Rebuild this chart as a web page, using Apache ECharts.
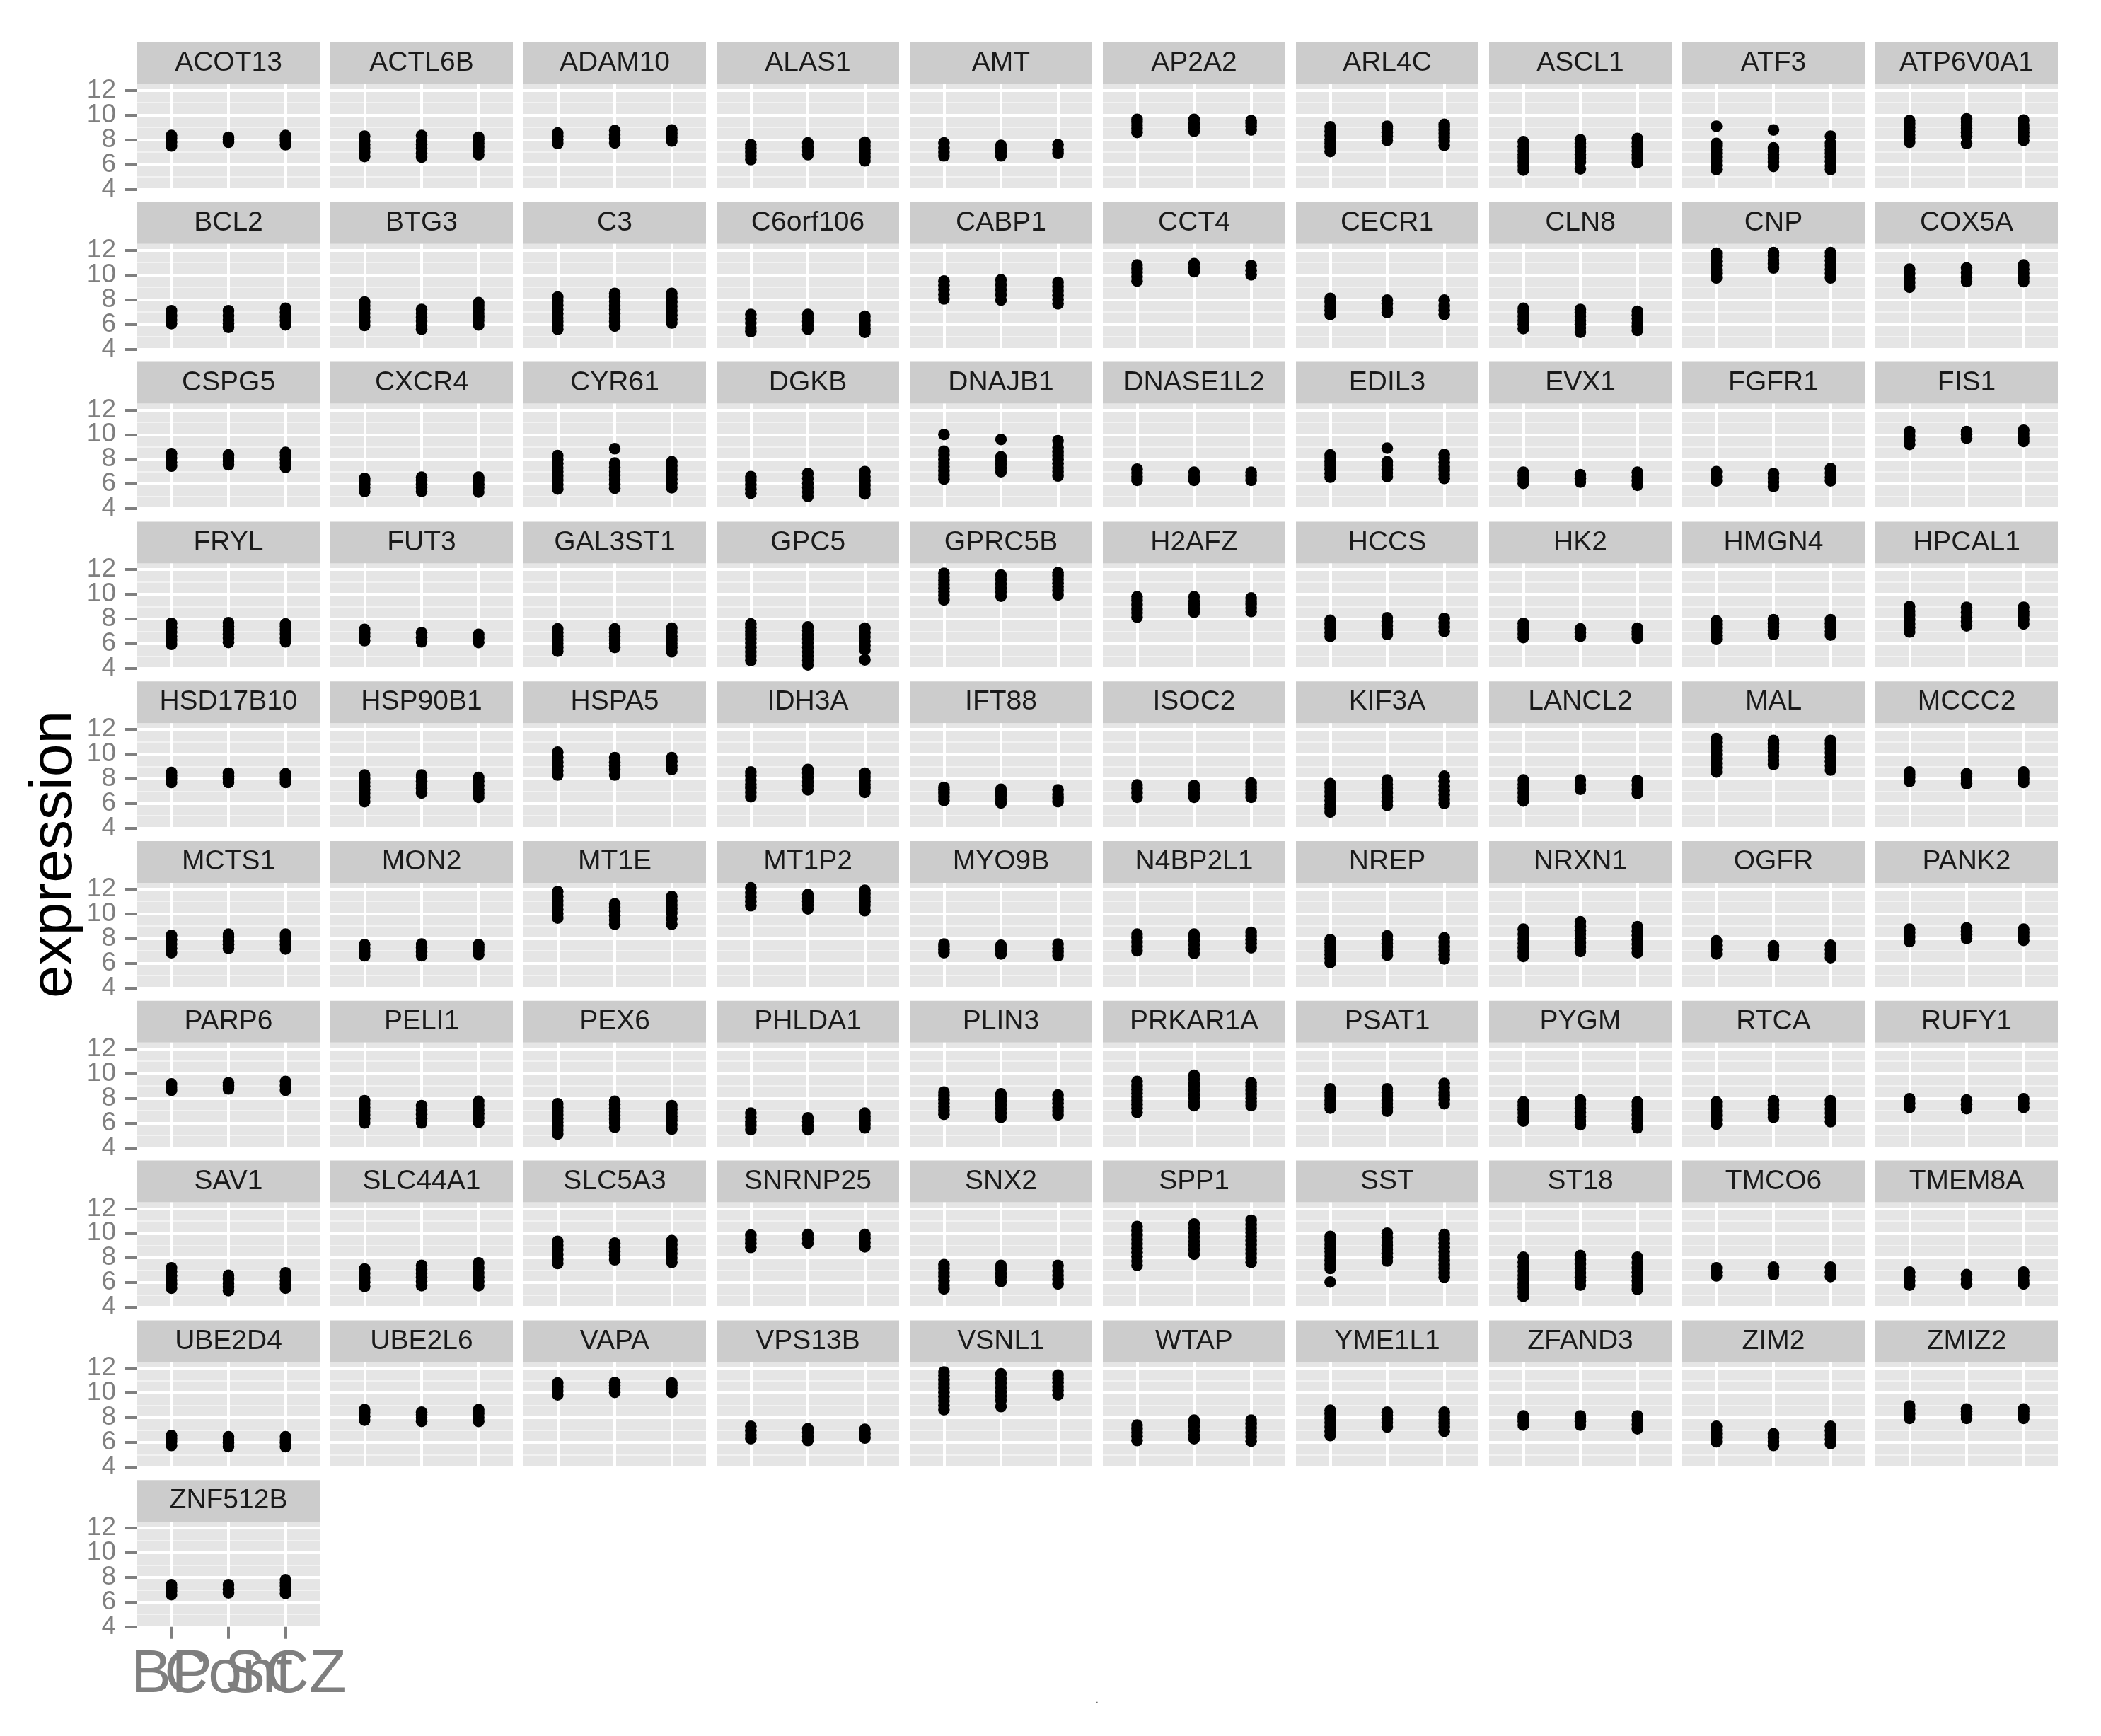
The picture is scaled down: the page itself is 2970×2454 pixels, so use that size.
<!DOCTYPE html>
<html><head><meta charset="utf-8">
<script src="https://cdn.jsdelivr.net/npm/echarts@6/dist/echarts.min.js"></script>
<style>html,body{margin:0;padding:0;background:#fff}#c{width:2970px;height:2454px}</style>
</head><body><div id="c"></div>
<script>
const genes = ['ACOT13','ACTL6B','ADAM10','ALAS1','AMT','AP2A2','ARL4C','ASCL1','ATF3','ATP6V0A1',
'BCL2','BTG3','C3','C6orf106','CABP1','CCT4','CECR1','CLN8','CNP','COX5A',
'CSPG5','CXCR4','CYR61','DGKB','DNAJB1','DNASE1L2','EDIL3','EVX1','FGFR1','FIS1',
'FRYL','FUT3','GAL3ST1','GPC5','GPRC5B','H2AFZ','HCCS','HK2','HMGN4','HPCAL1',
'HSD17B10','HSP90B1','HSPA5','IDH3A','IFT88','ISOC2','KIF3A','LANCL2','MAL','MCCC2',
'MCTS1','MON2','MT1E','MT1P2','MYO9B','N4BP2L1','NREP','NRXN1','OGFR','PANK2',
'PARP6','PELI1','PEX6','PHLDA1','PLIN3','PRKAR1A','PSAT1','PYGM','RTCA','RUFY1',
'SAV1','SLC44A1','SLC5A3','SNRNP25','SNX2','SPP1','SST','ST18','TMCO6','TMEM8A',
'UBE2D4','UBE2L6','VAPA','VPS13B','VSNL1','WTAP','YME1L1','ZFAND3','ZIM2','ZMIZ2',
'ZNF512B'];
const groups = ['BP','Cont','SCZ'];
const yTicks = [4,6,8,10,12];
const yMinorTicks = [5,7,9,11];
const xTicks = [1,2,3];

const bpValues = [
[7.5,7.8,8.1,8.35],[6.65,7.0,7.3,7.6,7.9,8.3],[7.7,8.0,8.3,8.55],[6.4,6.7,7.0,7.3,7.6],[6.7,7.0,7.35,7.75],
[8.6,8.9,9.2,9.45,9.65],[7.05,7.4,7.7,8.0,8.35,8.7,9.05],[5.55,5.9,6.2,6.5,6.8,7.1,7.45,7.85],[5.6,5.95,6.3,6.6,6.9,7.2,7.5,7.7,9.1],[7.8,8.1,8.4,8.7,9.0,9.3,9.55],
[6.05,6.35,6.7,7.1],[5.9,6.2,6.55,6.9,7.2,7.5,7.8],[5.6,5.9,6.2,6.5,6.85,7.2,7.55,7.9,8.2],[5.4,5.7,6.1,6.45,6.8],[8.05,8.4,8.8,9.15,9.5],
[9.5,9.85,10.2,10.5,10.8],[6.8,7.15,7.45,7.8,8.1],[5.65,6.0,6.3,6.65,7.0,7.3],[9.75,10.1,10.4,10.75,11.1,11.45,11.75],[9.0,9.35,9.7,10.1,10.45],
[7.45,7.75,8.1,8.45],[5.4,5.7,6.0,6.25,6.45],[5.6,5.95,6.3,6.65,7.0,7.3,7.65,8.0,8.3],[5.25,5.6,5.95,6.3,6.6],[6.4,6.7,7.05,7.4,7.7,8.0,8.35,8.65,10.0],
[6.3,6.6,6.9,7.2],[6.55,6.85,7.2,7.5,7.8,8.1,8.35],[6.05,6.35,6.65,6.95],[6.25,6.6,7.0],[9.2,9.55,9.9,10.25],
[5.95,6.3,6.6,6.95,7.3,7.65],[6.25,6.6,6.85,7.15],[5.4,5.7,6.0,6.3,6.6,6.9,7.2],[4.65,5.0,5.35,5.7,6.05,6.4,6.7,7.0,7.3,7.6],[9.55,9.9,10.2,10.5,10.8,11.1,11.4,11.7],
[8.15,8.5,8.8,9.15,9.5,9.8],[6.6,6.9,7.25,7.6,7.9],[6.5,6.8,7.1,7.35,7.65],[6.35,6.65,6.95,7.25,7.55,7.85],[6.95,7.3,7.6,7.95,8.3,8.65,9.0],
[7.7,8.0,8.25,8.5],[6.15,6.5,6.8,7.1,7.4,7.7,8.0,8.3],[8.3,8.65,9.0,9.35,9.75,10.15],[6.55,6.9,7.25,7.55,7.9,8.25,8.55],[6.25,6.55,6.85,7.1,7.3],
[6.5,6.85,7.2,7.5],[5.3,5.6,5.9,6.25,6.6,6.95,7.3,7.6],[6.2,6.5,6.85,7.2,7.55,7.9],[8.55,8.9,9.25,9.6,9.95,10.3,10.6,10.95,11.25],[7.8,8.1,8.35,8.55],
[6.85,7.2,7.55,7.9,8.25],[6.6,6.9,7.2,7.5],[9.65,10.0,10.35,10.7,11.05,11.4,11.8],[10.65,11.0,11.35,11.7,12.1],[6.85,7.1,7.35,7.55],
[7.0,7.35,7.7,8.05,8.35],[6.05,6.4,6.7,7.0,7.3,7.6,7.9],[6.55,6.9,7.25,7.6,7.95,8.35,8.75],[6.75,7.1,7.45,7.8],[7.75,8.1,8.45,8.75],
[8.65,8.9,9.15],[6.0,6.35,6.65,6.95,7.25,7.55,7.8],[5.1,5.4,5.75,6.05,6.35,6.65,6.95,7.25,7.55],[5.45,5.8,6.1,6.45,6.8],[6.7,7.0,7.3,7.6,7.9,8.2,8.5],
[6.85,7.2,7.5,7.8,8.1,8.4,8.7,9.0,9.35],[7.2,7.5,7.8,8.15,8.45,8.75],[6.15,6.45,6.8,7.1,7.4,7.7],[5.9,6.25,6.6,6.95,7.35,7.7],[7.25,7.6,7.95],
[5.55,5.9,6.2,6.55,6.9,7.2],[5.7,6.05,6.4,6.75,7.1],[7.55,7.9,8.25,8.65,9.0,9.35],[8.85,9.2,9.5,9.85],[5.5,5.8,6.15,6.5,6.8,7.15,7.45],
[7.4,7.75,8.1,8.45,8.8,9.15,9.5,9.85,10.2,10.55],[6.05,7.15,7.45,7.8,8.15,8.5,8.8,9.1,9.45,9.75],[4.9,5.25,5.6,5.9,6.25,6.6,6.95,7.3,7.65,8.05],[6.55,6.85,7.2],[5.8,6.15,6.5,6.85],
[5.75,6.05,6.3,6.55],[7.8,8.1,8.4,8.65],[9.85,10.15,10.5,10.8],[6.3,6.6,6.95,7.3],[8.65,9.0,9.35,9.7,10.05,10.4,10.7,11.05,11.4,11.7],
[6.15,6.5,6.8,7.1,7.4],[6.55,6.9,7.25,7.6,7.95,8.3,8.6],[7.4,7.7,7.95,8.15],[6.05,6.4,6.7,7.0,7.3],[7.95,8.3,8.65,8.95],
[6.6,6.9,7.15,7.4]
];
const contValues = [
[7.8,8.0,8.2],[6.6,6.9,7.3,7.6,7.9,8.35],[7.75,8.1,8.4,8.75],[6.8,7.1,7.4,7.75],[6.7,7.0,7.25,7.55],
[8.7,9.0,9.3,9.65],[7.95,8.3,8.6,8.9,9.1],[5.65,6.2,6.5,6.8,7.1,7.4,7.7,8.0],[5.85,6.2,6.5,6.8,7.1,7.35,8.8],[7.7,8.3,8.6,8.9,9.2,9.45,9.7],
[5.75,6.05,6.35,6.7,7.1],[5.6,5.9,6.25,6.55,6.9,7.2],[5.85,6.2,6.5,6.85,7.2,7.5,7.85,8.2,8.5],[5.6,5.9,6.2,6.5,6.8],[7.95,8.4,8.8,9.2,9.6],
[10.25,10.55,10.9],[6.95,7.3,7.65,7.95],[5.35,5.7,6.0,6.3,6.65,6.95,7.2],[10.55,10.9,11.2,11.55,11.8],[9.45,9.8,10.15,10.55],
[7.55,7.85,8.1,8.35],[5.4,5.7,6.0,6.3,6.55],[5.65,6.0,6.35,6.7,7.0,7.35,7.7,8.85],[5.0,5.35,5.7,6.05,6.45,6.85],[7.0,7.3,7.6,7.9,8.2,9.6],
[6.3,6.6,6.95],[6.6,6.9,7.2,7.5,7.8,8.9],[6.15,6.45,6.75],[5.8,6.15,6.5,6.85],[9.7,10.0,10.25],
[6.1,6.45,6.75,7.1,7.4,7.7],[6.15,6.5,6.9],[5.7,6.0,6.3,6.6,6.9,7.2],[4.3,4.65,5.0,5.35,5.7,6.05,6.4,6.7,7.05,7.35],[9.85,10.2,10.5,10.85,11.2,11.55],
[8.55,8.85,9.15,9.45,9.8],[6.75,7.1,7.45,7.8,8.1],[6.6,6.9,7.2],[6.75,7.05,7.35,7.65,7.95],[7.45,7.8,8.15,8.55,8.95],
[7.7,8.0,8.2,8.45],[6.85,7.2,7.5,7.8,8.1,8.3],[8.3,8.75,9.05,9.35,9.7],[7.1,7.45,7.75,8.1,8.45,8.75],[6.05,6.35,6.65,6.9,7.15],
[6.5,6.8,7.15,7.45],[5.85,6.2,6.5,6.85,7.2,7.55,7.9],[7.15,7.5,7.9],[9.15,9.5,9.85,10.2,10.5,10.8,11.1],[7.6,7.9,8.15,8.4],
[7.2,7.5,7.8,8.1,8.35],[6.6,6.9,7.25,7.55],[9.15,9.5,9.85,10.2,10.5,10.8],[10.4,10.7,11.0,11.25,11.55],[6.75,7.05,7.25,7.45],
[6.8,7.15,7.5,7.85,8.15,8.35],[6.65,6.95,7.3,7.6,7.9,8.2],[6.95,7.3,7.65,8.0,8.35,8.65,9.0,9.35],[6.6,6.9,7.15,7.4],[8.0,8.3,8.6,8.85],
[8.75,9.0,9.25],[6.0,6.35,6.7,7.05,7.4],[5.65,6.0,6.3,6.6,6.9,7.2,7.5,7.75],[5.45,5.75,6.1,6.4],[6.45,6.8,7.15,7.45,7.75,8.05,8.35],
[7.4,7.7,8.0,8.3,8.65,8.95,9.25,9.55,9.85],[6.95,7.25,7.55,7.85,8.15,8.45,8.75],[5.85,6.15,6.5,6.85,7.2,7.55,7.85],[6.45,6.8,7.1,7.45,7.8],[7.15,7.5,7.85],
[5.35,5.65,5.95,6.3,6.6],[5.75,6.1,6.45,6.75,7.05,7.4],[7.85,8.2,8.5,8.85,9.2],[9.2,9.55,9.9],[6.1,6.45,6.75,7.1,7.4],
[8.3,8.65,9.0,9.35,9.7,10.05,10.4,10.75],[7.75,8.05,8.4,8.7,9.0,9.3,9.65,10.0],[5.8,6.15,6.45,6.8,7.15,7.5,7.85,8.2],[6.65,6.95,7.25],[5.9,6.25,6.65],
[5.65,5.95,6.2,6.45],[7.7,8.0,8.25,8.45],[10.05,10.35,10.6,10.85],[6.15,6.45,6.8,7.1],[8.9,9.4,9.75,10.1,10.45,10.8,11.15,11.55],
[6.3,6.6,6.95,7.3,7.6,7.8],[7.25,7.6,7.9,8.2,8.45],[7.4,7.7,7.95,8.15],[5.75,6.05,6.4,6.7],[7.95,8.25,8.5,8.7],
[6.75,7.05,7.4]
];
const sczValues = [
[7.6,7.9,8.1,8.35],[6.8,7.1,7.4,7.7,8.0,8.2],[7.9,8.2,8.5,8.8],[6.3,6.6,6.9,7.2,7.5,7.8],[6.9,7.2,7.6],
[8.8,9.1,9.35,9.55],[7.55,7.9,8.2,8.5,8.8,9.05,9.25],[6.15,6.5,6.8,7.1,7.45,7.75,8.1],[5.6,5.9,6.25,6.6,6.9,7.2,7.5,7.75,8.3],[7.95,8.3,8.6,8.9,9.2,9.6],
[5.95,6.3,6.6,6.95,7.3],[5.95,6.3,6.6,6.9,7.2,7.5,7.75],[6.1,6.4,6.75,7.1,7.45,7.8,8.15,8.5],[5.35,5.65,5.95,6.3,6.65],[7.65,8.0,8.35,8.7,9.05,9.4],
[10.0,10.35,10.75],[6.8,7.15,7.5,7.95],[5.5,5.8,6.1,6.45,6.75,7.05],[9.75,10.1,10.45,10.8,11.15,11.5,11.8],[9.45,9.75,10.1,10.45,10.8],
[7.35,7.7,8.0,8.3,8.55],[5.35,5.7,6.0,6.3,6.55],[5.7,6.05,6.4,6.75,7.1,7.45,7.8],[5.2,5.55,5.9,6.25,6.6,7.0],[6.65,7.0,7.3,7.65,8.0,8.3,8.6,8.95,9.5],
[6.3,6.65,6.95],[6.45,6.75,7.1,7.4,7.75,8.1,8.4],[5.9,6.25,6.6,6.95],[6.25,6.55,6.9,7.25],[9.45,9.75,10.05,10.35],
[6.15,6.45,6.8,7.1,7.4,7.6],[6.1,6.45,6.75],[5.35,5.7,6.0,6.3,6.6,6.95,7.25],[4.7,5.5,5.85,6.2,6.55,6.9,7.25],[9.95,10.3,10.6,10.9,11.2,11.5,11.75],
[8.6,8.9,9.2,9.45,9.7],[7.0,7.35,7.7,8.05],[6.45,6.75,7.0,7.25],[6.7,7.0,7.35,7.65,7.95],[7.6,7.95,8.3,8.6,8.95],
[7.7,7.95,8.15,8.4],[6.5,6.8,7.1,7.45,7.8,8.1],[8.75,9.05,9.4,9.7],[6.9,7.25,7.55,7.85,8.15,8.45],[6.15,6.45,6.75,7.1],
[6.5,6.8,7.1,7.35,7.65],[6.0,6.35,6.7,7.05,7.4,7.8,8.2],[6.8,7.15,7.5,7.85],[8.7,9.05,9.4,9.75,10.1,10.45,10.8,11.1],[7.7,8.0,8.3,8.55],
[7.15,7.5,7.8,8.1,8.35],[6.7,7.0,7.25,7.5],[9.15,9.6,10.05,10.4,10.7,11.05,11.4],[10.25,10.7,11.0,11.3,11.6,11.9],[6.6,6.9,7.2,7.55],
[7.25,7.6,7.9,8.2,8.5],[6.35,6.7,7.0,7.35,7.7,8.05],[6.85,7.2,7.55,7.9,8.25,8.6,8.95],[6.45,6.75,7.1,7.45],[7.85,8.15,8.45,8.75],
[8.65,9.0,9.35],[6.05,6.4,6.75,7.05,7.4,7.75],[5.5,5.85,6.2,6.5,6.8,7.1,7.4],[5.6,5.9,6.2,6.5,6.8],[6.65,6.95,7.25,7.6,7.9,8.25],
[7.4,7.7,8.0,8.35,8.65,8.95,9.25],[7.55,7.9,8.2,8.5,8.85,9.2],[5.6,5.95,6.3,6.65,7.0,7.35,7.7],[6.1,6.45,6.8,7.15,7.5,7.8],[7.25,7.6,7.95],
[5.55,5.85,6.15,6.5,6.8],[5.75,6.1,6.45,6.8,7.2,7.6],[7.65,8.0,8.35,8.7,9.05,9.4],[8.9,9.25,9.6,9.9],[5.9,6.25,6.6,6.95,7.4],
[7.65,8.0,8.35,8.7,9.05,9.4,9.75,10.05,10.35,10.7,11.05],[6.45,6.8,7.15,7.45,7.8,8.15,8.5,8.85,9.2,9.55,9.9],[5.45,5.8,6.15,6.5,6.85,7.2,7.6,8.05],[6.5,6.85,7.25],[5.9,6.2,6.55,6.85],
[5.65,5.95,6.2,6.45],[7.7,8.0,8.35,8.65],[10.05,10.35,10.6,10.8],[6.35,6.7,7.05],[9.85,10.2,10.5,10.85,11.15,11.45],
[6.1,6.45,6.8,7.15,7.5,7.8],[6.9,7.25,7.55,7.85,8.15,8.45],[7.1,7.45,7.8,8.15],[5.9,6.25,6.6,6.95,7.3],[7.95,8.25,8.5,8.7],
[6.7,7.0,7.3,7.55,7.8]
];

const FONT = '"Liberation Sans", Arial, Helvetica, sans-serif';
const NCOL = 10;
const L0 = 194, PITCH_X = 273, PW = 258;
const T0 = 60, PITCH_Y = 225.8, SH = 59, PH = 148.5;

// labels split over two axes per grid so that no axis has touching labels
const yLabelsA = yTicks.filter((v, k) => k % 2 === 0);   // 4, 8, 12
const yLabelsB = yTicks.filter((v, k) => k % 2 === 1);   // 6, 10
const xLabelsA = xTicks.filter((v, k) => k % 2 === 0);   // BP, SCZ
const xLabelsB = xTicks.filter((v, k) => k % 2 === 1);   // Cont

const grid = [], xAxis = [], yAxis = [], series = [], graphic = [];
const extraX = [];
const yLabelStyle = {color: '#7f7f7f', fontSize: 37, fontFamily: FONT, margin: 30,
  hideOverlap: false, showMinLabel: true, showMaxLabel: true};
const xLabelStyle = {color: '#7f7f7f', fontSize: 86, fontFamily: FONT, margin: 26,
  hideOverlap: false, showMinLabel: true, showMaxLabel: true,
  formatter: v => groups[Math.round(v) - 1] || ''};
genes.forEach((g, i) => {
  const r = Math.floor(i / NCOL), c = i % NCOL;
  const left = L0 + c * PITCH_X;
  const stripTop = T0 + r * PITCH_Y;
  const top = stripTop + SH;
  const showX = (i === genes.length - 1);
  const showY = (c === 0);
  grid.push({left: left, top: top, width: PW, height: PH, show: true,
    backgroundColor: '#e5e5e5', borderWidth: 0, containLabel: false});
  xAxis.push({gridIndex: i, type: 'value', min: 0.4, max: 3.6, position: 'bottom',
    axisLine: {show: false},
    axisTick: {show: showX, customValues: xTicks, length: 17, lineStyle: {color: '#7f7f7f', width: 4}},
    axisLabel: Object.assign({show: showX, customValues: xLabelsA}, xLabelStyle),
    splitLine: {show: true, lineStyle: {color: '#ffffff', width: 4}}});
  if (showX) {
    extraX.push({gridIndex: i, type: 'value', min: 0.4, max: 3.6, position: 'bottom',
      axisLine: {show: false},
      axisTick: {show: false, customValues: xLabelsB},
      axisLabel: Object.assign({show: true, customValues: xLabelsB}, xLabelStyle),
      splitLine: {show: false}});
  }
  yAxis.push({gridIndex: i, type: 'value', min: 4, max: 12.5, position: 'left',
    axisLine: {show: false},
    axisTick: {show: showY, customValues: yTicks, length: 17, lineStyle: {color: '#7f7f7f', width: 4}},
    axisLabel: Object.assign({show: showY, customValues: yLabelsA}, yLabelStyle),
    splitLine: {show: true, lineStyle: {color: '#ffffff', width: 4}}});
  yAxis.push({gridIndex: i, type: 'value', min: 4, max: 12.5, position: 'left', offset: 0,
    axisLine: {show: false},
    axisTick: {show: false, customValues: yMinorTicks},
    axisLabel: Object.assign({show: showY, customValues: yLabelsB}, yLabelStyle),
    splitLine: {show: true, lineStyle: {color: '#f2f2f2', width: 2}}});
  const data = [];
  [bpValues[i], contValues[i], sczValues[i]].forEach((arr, k) => arr.forEach(v => data.push([xTicks[k], v])));
  series.push({type: 'scatter', xAxisIndex: i, yAxisIndex: 2 * i, data: data,
    symbol: 'circle', symbolSize: 16.5, itemStyle: {color: '#000000', opacity: 1},
    silent: true, animation: false, clip: false});
  graphic.push({type: 'rect', shape: {x: left, y: stripTop, width: PW, height: SH},
    style: {fill: '#cccccc'}, silent: true});
  graphic.push({type: 'text', x: left + PW / 2, y: stripTop + SH / 2,
    style: {text: g, font: '39px ' + FONT, fill: '#1a1a1a', align: 'center', verticalAlign: 'middle',
      textAlign: 'center', textVerticalAlign: 'middle'}, silent: true});
});
extraX.forEach(a => xAxis.push(a));
graphic.push({type: 'text', x: 78, y: 1208, rotation: Math.PI / 2,
  style: {text: 'expression', font: '84px ' + FONT, fill: '#000000', align: 'center', verticalAlign: 'middle',
    textAlign: 'center', textVerticalAlign: 'middle'}, silent: true});
graphic.push({type: 'text', x: 1551, y: 2404,
  style: {text: '.', font: '10px ' + FONT, fill: '#000000', align: 'center', verticalAlign: 'middle',
    textAlign: 'center', textVerticalAlign: 'middle'}, silent: true});

const chart = echarts.init(document.getElementById('c'), null, {renderer: 'canvas'});
chart.setOption({backgroundColor: '#ffffff', animation: false,
  grid: grid, xAxis: xAxis, yAxis: yAxis, series: series, graphic: graphic});
</script>
</body></html>
